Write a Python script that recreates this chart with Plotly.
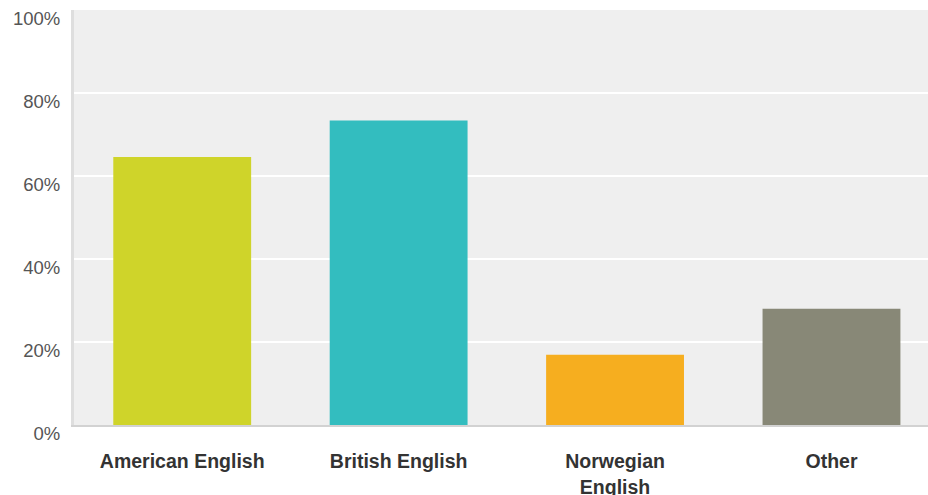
import plotly.graph_objects as go

categories = ["American English", "British English", "Norwegian<br>English", "Other"]
values = [64.6, 73.4, 16.9, 28.0]
colors = ["#cfd42a", "#33bdbf", "#f6ae1f", "#888877"]
y_ticks = [0, 20, 40, 60, 80, 100]

fig = go.Figure(
    go.Bar(
        x=categories,
        y=values,
        marker=dict(color=colors, line=dict(width=0)),
        hoverinfo="skip",
    )
)

fig.update_layout(
    width=928,
    height=495,
    margin=dict(l=74, r=0, t=10, b=70),
    paper_bgcolor="white",
    plot_bgcolor="#efefef",
    bargap=0.363,
    showlegend=False,
)

fig.update_xaxes(
    range=[-0.5, 3.446],
    automargin=False,
    showgrid=False,
    showline=True,
    linecolor="#d2d2d2",
    linewidth=2,
    ticks="",
    ticklabelstandoff=18,
    tickfont=dict(family="Liberation Sans, Arial", size=19.5, color="#333333", weight="bold"),
    fixedrange=True,
)

fig.update_yaxes(
    range=[0, 100],
    automargin=False,
    tickvals=y_ticks,
    ticktext=[f"{v}%" for v in y_ticks],
    showgrid=True,
    gridcolor="white",
    gridwidth=2,
    zeroline=False,
    showline=True,
    linecolor="#dedede",
    linewidth=3,
    ticks="",
    ticklabelstandoff=7,
    ticklabelshift=9,
    tickfont=dict(family="Liberation Sans, Arial", size=18.5, color="#555555"),
    fixedrange=True,
)

fig.write_html(
    "out.html",
    config={"displayModeBar": False},
    post_script="document.body.style.margin='0';document.body.style.padding='0';",
)
